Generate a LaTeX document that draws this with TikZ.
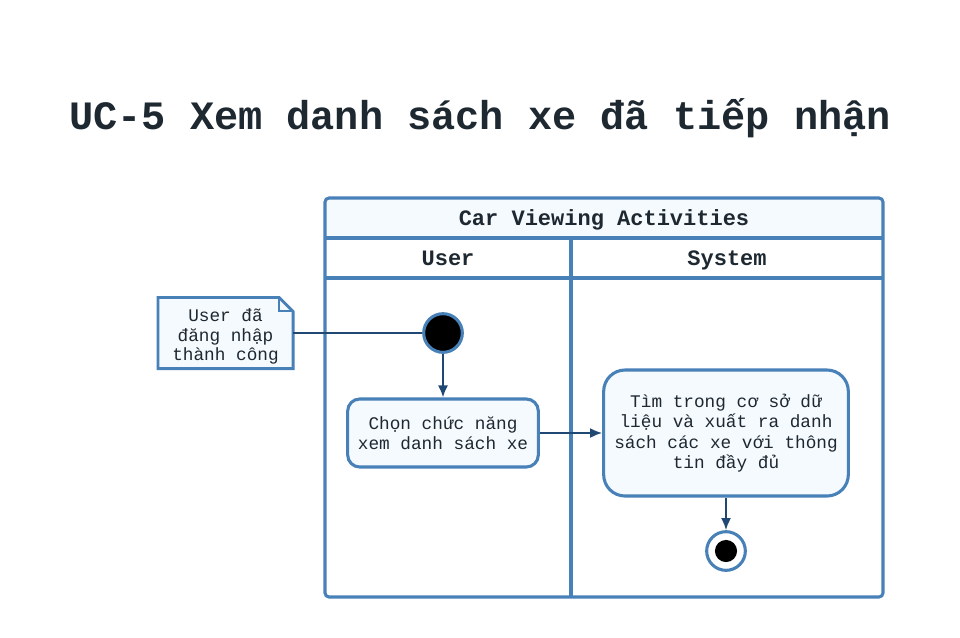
\documentclass[tikz,border=0pt]{standalone}
\usepackage{fontspec}
\setmonofont{Liberation Mono}
\usetikzlibrary{arrows.meta}
\definecolor{laneblue}{RGB}{72,128,184}
\definecolor{arrowblue}{RGB}{31,72,115}
\definecolor{lightfill}{RGB}{245,250,255}
\definecolor{textdark}{RGB}{30,40,48}
\begin{document}
\begin{tikzpicture}[x=0.75pt,y=-0.75pt,
  lanebox/.style={draw=laneblue,line width=2.3pt},
  bodytext/.style={font=\ttfamily\fontsize{13.3}{15.2}\selectfont,text=textdark,align=center},
  headtext/.style={font=\ttfamily\bfseries\fontsize{16.5}{19}\selectfont,text=textdark,anchor=base,inner sep=0pt},
  action/.style={bodytext,draw=laneblue,fill=lightfill,line width=2.3pt,inner sep=0pt},
  flow/.style={draw=arrowblue,line width=1.5pt,-{Latex[length=9pt,width=7.5pt]}},
  link/.style={draw=arrowblue,line width=1.5pt}
]
\useasboundingbox (0,0) rectangle (960,637);
% title
\node[font=\ttfamily\bfseries\fontsize{30.2}{36}\selectfont,text=textdark] (title) at (480,118) {UC-5 Xem danh sách xe đã tiếp nhận};
% pool
\fill[lightfill,rounded corners=3pt] (325,238) -- (325,198) -- (883,198) -- (883,238) -- cycle;
\fill[lightfill] (325,225) rectangle (883,238);
\draw[lanebox,rounded corners=3pt] (325,198) rectangle (883,597);
\draw[lanebox] (325,238) -- (883,238);
\draw[lanebox] (325,278) -- (883,278);
\draw[lanebox] (571,238) -- (571,597);
\node[headtext] (pool) at (604,225) {Car Viewing Activities};
\node[headtext] (laneU) at (448,265) {User};
\node[headtext] (laneS) at (727,265) {System};
% note
\node[minimum width=101pt,minimum height=53pt,inner sep=0pt] (note) at (225.5,333) {};
\draw[lanebox,fill=lightfill,line width=2.1pt] (note.south west) -- (note.north west) -- ([xshift=-10.5pt]note.north east) -- ([yshift=-10.5pt]note.north east) -- (note.south east) -- cycle;
\draw[draw=laneblue,line width=1.6pt] ([xshift=-10.5pt]note.north east) -- ([xshift=-10.5pt,yshift=-10.5pt]note.north east) -- ([yshift=-10.5pt]note.north east);
\node[bodytext,font=\ttfamily\fontsize{13.3}{14.7}\selectfont,inner sep=0pt] (notetext) at (225.5,336.5) {User đã\\đăng nhập\\thành công};
% start
\node[circle,fill=black,draw=laneblue,line width=2.3pt,minimum size=29pt,inner sep=0pt] (start) at (443,333) {};
% actions
\node[action,rounded corners=9pt,minimum width=143pt,minimum height=51pt] (act1) at (443,433) {Chọn chức năng\\xem danh sách xe};
\node[action,rounded corners=16pt,minimum width=183.5pt,minimum height=94.5pt] (act2) at (726,433) {Tìm trong cơ sở dữ\\liệu và xuất ra danh\\sách các xe với thông\\tin đầy đủ};
% final
\node[circle,fill=white,draw=laneblue,line width=2.3pt,minimum size=29pt,inner sep=0pt] (final) at (726,551) {};
\fill[black] (final.center) circle (8.3pt);
% connectors
\draw[link] (note.east) -- (start.west);
\draw[flow] (start.south) -- (act1.north);
\draw[flow] (act1.east) -- (act2.west);
\draw[flow] (act2.south) -- (final.north);
\end{tikzpicture}
\end{document}
